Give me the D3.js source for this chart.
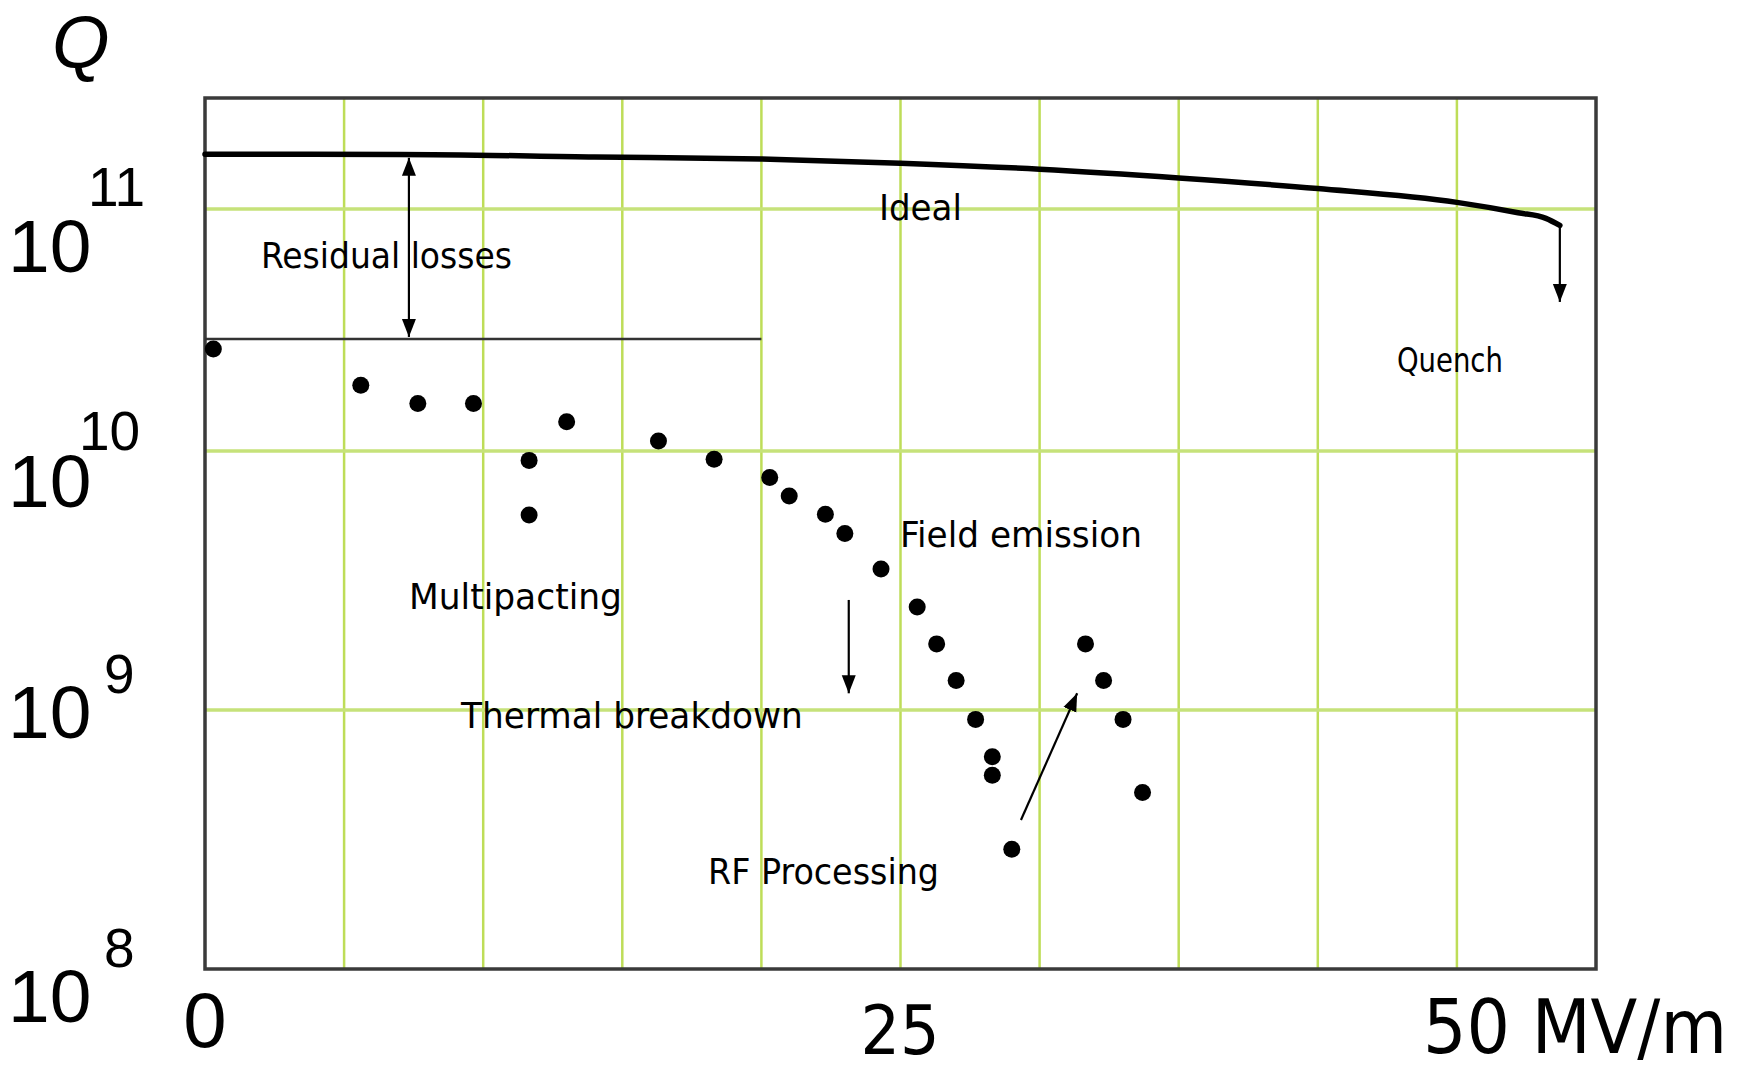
<!DOCTYPE html>
<html>
<head>
<meta charset="utf-8">
<script src="https://cdn.jsdelivr.net/npm/d3@7"></script>
<style>
  html, body { margin: 0; padding: 0; background: #fff; }
  svg { display: block; }
  .cond { font-family: "DejaVu Sans Condensed", "DejaVu Sans", sans-serif; fill: #000; }
  .arial { font-family: "Liberation Sans", Arial, sans-serif; fill: #000; }
</style>
</head>
<body>
<svg id="chart" width="1742" height="1070"></svg>
<script>
// measured points: accelerating field (MV/m) and quality factor
const fieldE = [0.3, 5.6, 7.65, 9.65, 11.65, 11.65, 13.0, 16.3, 18.3, 20.3, 21.0, 22.3, 23.0,
  24.3, 25.6, 26.3, 27.0, 27.7, 28.3, 28.3, 29.0, 31.65, 32.3, 33.0, 33.7];
const qMeasured = [2.64e10, 1.87e10, 1.57e10, 1.57e10, 9.2e9, 5.66e9, 1.32e10, 1.10e10, 9.3e9,
  7.9e9, 6.7e9, 5.7e9, 4.8e9, 3.5e9, 2.5e9, 1.8e9, 1.3e9, 9.2e8, 6.6e8, 5.6e8, 2.9e8,
  1.8e9, 1.3e9, 9.2e8, 4.8e8];

// ideal curve
const idealE = [0, 7, 14, 20, 25, 30, 35, 40, 45, 47.2, 48.2, 48.7];
const idealQ = [1.687e11, 1.683e11, 1.644e11, 1.611e11, 1.549e11, 1.462e11, 1.345e11, 1.215e11,
  1.065e11, 9.65e10, 9.15e10, 8.55e10];

// residual losses level
const residualE = [0, 20];
const residualQ = [2.9e10, 2.9e10];

// annotations (baseline-left anchor in data units)
const labelText = ["Residual losses", "Ideal", "Quench", "Field emission", "Multipacting",
  "Thermal breakdown", "RF Processing"];
const labelE = [2.05, 24.26, 42.88, 25.02, 7.37, 9.24, 18.12];
const labelQ = [5.7e10, 9.0e10, 2.12e10, 4.26e9, 2.45e9, 8.5e8, 2.13e8];

// arrows
const arrowFromE = [7.33, 48.7, 23.14, 29.33];
const arrowFromQ = [2.96e10, 8.55e10, 2.66e9, 3.76e8];
const arrowToE = [7.33, 48.7, 23.14, 31.35];
const arrowToQ = [1.63e11, 4.13e10, 1.16e9, 1.16e9];
const arrowBoth = [true, false, false, false];

// axes
const xTickVals = [0, 25, 50];
const xTickText = ["0", "25", "50 MV/m"];
const yTickVals = [1e8, 1e9, 1e10, 1e11];
const yTickExp = ["8", "9", "10", "11"];

const svg = d3.select("#chart");

const x = d3.scaleLinear().domain([0, 50]).range([205, 1596]);
// the original's decades are not quite even, so the log scale is piecewise
const y = d3.scaleLog()
  .domain([1e8, 1e9, 1e10, 1e11, Math.pow(10, 11.46)])
  .range([969, 710, 451, 209, 98]);

const plotLeft = x(0), plotRight = x(50);
const plotTop = y(Math.pow(10, 11.46)), plotBottom = y(1e8);

// squeeze a text horizontally so it spans the given width (narrow font look)
function fitText(sel, px, py, width) {
  const w = sel.node().getComputedTextLength();
  sel.attr("x", 0).attr("y", 0)
    .attr("transform", `translate(${px},${py}) scale(${width / w},1)`);
}

// grid
svg.append("g").selectAll("line")
  .data(x.ticks(10).filter(d => d > 0 && d < 50))
  .join("line")
  .attr("x1", d => x(d)).attr("x2", d => x(d))
  .attr("y1", plotTop).attr("y2", plotBottom)
  .attr("stroke", "#bedd58").attr("stroke-width", 2.5);

svg.append("g").selectAll("line")
  .data(yTickVals.slice(1))
  .join("line")
  .attr("x1", plotLeft).attr("x2", plotRight)
  .attr("y1", d => y(d)).attr("y2", d => y(d))
  .attr("stroke", "#c6e27a").attr("stroke-width", 3.5);

// frame
svg.append("rect")
  .attr("x", plotLeft).attr("y", plotTop)
  .attr("width", plotRight - plotLeft).attr("height", plotBottom - plotTop)
  .attr("fill", "none").attr("stroke", "#3a3a3a").attr("stroke-width", 3.5);

// arrow heads
const defs = svg.append("defs");
defs.append("marker")
  .attr("id", "head").attr("viewBox", "0 -8 18 16")
  .attr("refX", 18).attr("refY", 0)
  .attr("markerWidth", 18).attr("markerHeight", 16)
  .attr("markerUnits", "userSpaceOnUse")
  .attr("orient", "auto-start-reverse")
  .append("path").attr("d", "M0,-7L18,0L0,7Z").attr("fill", "#000");

// residual level line
svg.append("line")
  .attr("x1", x(residualE[0])).attr("x2", x(residualE[1]))
  .attr("y1", y(residualQ[0])).attr("y2", y(residualQ[1]))
  .attr("stroke", "#333").attr("stroke-width", 2.5);

// ideal curve
const line = d3.line()
  .x(i => x(idealE[i])).y(i => y(idealQ[i]))
  .curve(d3.curveMonotoneX);
svg.append("path")
  .attr("d", line(d3.range(idealE.length)))
  .attr("fill", "none").attr("stroke", "#000").attr("stroke-width", 5.5)
  .attr("stroke-linecap", "round");

// arrows
svg.append("g").selectAll("line")
  .data(d3.range(arrowFromE.length))
  .join("line")
  .attr("x1", i => x(arrowFromE[i])).attr("y1", i => y(arrowFromQ[i]))
  .attr("x2", i => x(arrowToE[i])).attr("y2", i => y(arrowToQ[i]))
  .attr("stroke", "#000").attr("stroke-width", 2.2)
  .attr("marker-end", "url(#head)")
  .attr("marker-start", i => arrowBoth[i] ? "url(#head)" : null);

// measured points
svg.append("g").selectAll("circle")
  .data(d3.range(fieldE.length))
  .join("circle")
  .attr("cx", i => x(fieldE[i])).attr("cy", i => y(qMeasured[i]))
  .attr("r", 8.5).attr("fill", "#000");

// annotation labels
const labelSize = [36, 36, 33, 36, 36, 36, 36];
const labelWidth = [251, 83, 106, 242, 213, 342, 231];
const lg = svg.append("g");
labelText.forEach((t, i) => {
  const el = lg.append("text").attr("class", "cond")
    .attr("font-size", labelSize[i]).text(t);
  fitText(el, x(labelE[i]) - 1, y(labelQ[i]), labelWidth[i]);
});

// y axis labels: 10 with exponent
const baseDy = [53, 28, 56, 63];
const supDy = [-2, -17, -1, -3];
const supX = [104, 104, 79, 88];
const yl = svg.append("g");
yTickVals.forEach((v, i) => {
  yl.append("text").attr("class", "arial")
    .attr("x", 8).attr("y", y(v) + baseDy[i])
    .attr("font-size", 75).text("10");
  yl.append("text").attr("class", "arial")
    .attr("x", supX[i]).attr("y", y(v) + supDy[i])
    .attr("font-size", 55).text(yTickExp[i]);
});

// Q title
svg.append("text").attr("class", "arial")
  .attr("x", 52).attr("y", 68)
  .attr("font-size", 74).attr("font-style", "italic")
  .text("Q");

// x axis labels
svg.append("text").attr("class", "arial")
  .attr("x", x(xTickVals[0])).attr("y", 1047)
  .attr("text-anchor", "middle")
  .attr("font-size", 78).text(xTickText[0]);
fitText(svg.append("text").attr("class", "cond").attr("font-size", 68).text(xTickText[1]),
  x(xTickVals[1]) - 40, 1054, 79);
fitText(svg.append("text").attr("class", "cond").attr("font-size", 74).text(xTickText[2]),
  x(xTickVals[2]) - 173, 1053, 304);
</script>
</body>
</html>
